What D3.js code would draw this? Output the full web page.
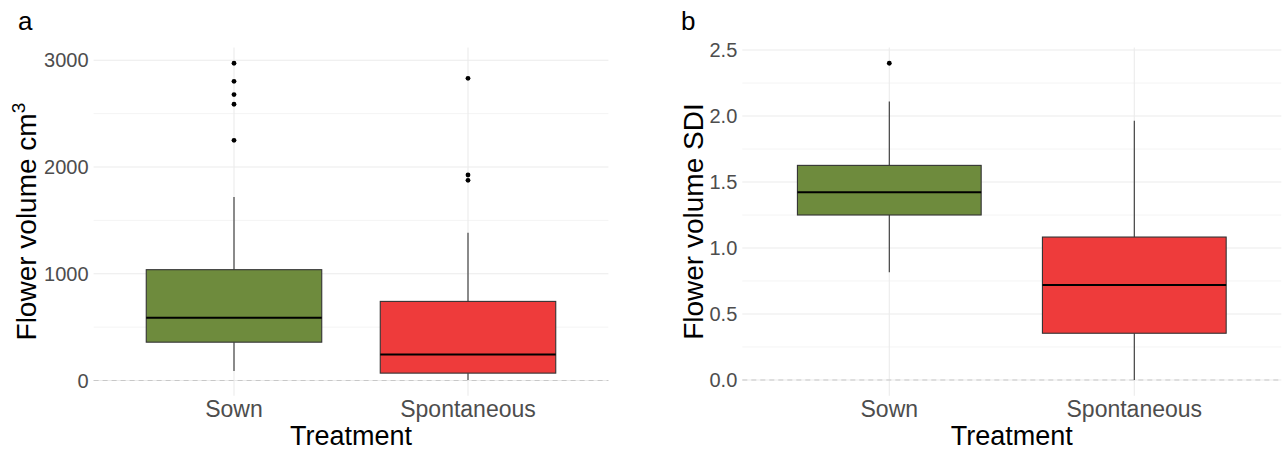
<!DOCTYPE html>
<html>
<head>
<meta charset="utf-8">
<script src="https://cdn.jsdelivr.net/npm/d3@7"></script>
<style>
  body { margin: 0; background: #fff; }
  svg text { font-family: "Liberation Sans", Arial, Helvetica, sans-serif; }
</style>
</head>
<body>
<svg id="chart" width="1285" height="450"></svg>
<script>
// Categories and colours
const treatments = ['Sown', 'Spontaneous']
const fills = ['#6e8b3d', '#ee3b3b']

// Panel a: flower volume cm3 (low whisker, Q1, median, Q3, high whisker)
const volume_low = [88, 5]
const volume_q1 = [359, 69]
const volume_median = [588, 244]
const volume_q3 = [1038, 741]
const volume_high = [1719, 1385]
const volume_outliers = [
  [2972, 2803, 2678, 2588, 2250],
  [2831, 1925, 1875]
]
const volume_ticks = [0, 1000, 2000, 3000]
const volume_minor = [500, 1500, 2500]

// Panel b: flower volume SDI
const sdi_low = [0.816, 0.0]
const sdi_q1 = [1.25, 0.354]
const sdi_median = [1.422, 0.72]
const sdi_q3 = [1.626, 1.083]
const sdi_high = [2.11, 1.965]
const sdi_outliers = [
  [2.40],
  []
]
const sdi_ticks = [0, 0.5, 1.0, 1.5, 2.0, 2.5]
const sdi_minor = [0.25, 0.75, 1.25, 1.75, 2.25]

const svg = d3.select('#chart')

function draw_panel(opt) {

  let boxes = treatments.map((t, i) => ({
    name: t,
    fill: fills[i],
    low: opt.low[i],
    q1: opt.q1[i],
    median: opt.median[i],
    q3: opt.q3[i],
    high: opt.high[i],
    outliers: opt.outliers[i]
  }))

  // ggplot style expansion: 5% continuous, 0.6 units discrete
  let all_vals = boxes.flatMap(b => [b.low, b.high, ...b.outliers])
  let [mn, mx] = d3.extent(all_vals)
  let pad = (mx - mn) * 0.05
  let top = 47.4, bottom = 395.8

  let y = d3.scaleLinear()
    .domain([mn - pad, mx + pad])
    .range([bottom, top])

  let x = d3.scaleLinear()
    .domain([0.4, treatments.length + 0.6])
    .range([opt.left, opt.right])

  let g = svg.append('g')

  // Minor grid
  g.selectAll('.minor')
    .data(opt.minor)
    .enter()
    .append('line')
      .attr('x1', opt.left)
      .attr('x2', opt.right)
      .attr('y1', d => y(d))
      .attr('y2', d => y(d))
      .attr('stroke', '#f4f4f4')
      .attr('stroke-width', 1)

  // Major grid (y)
  g.selectAll('.major')
    .data(opt.ticks)
    .enter()
    .append('line')
      .attr('x1', opt.left)
      .attr('x2', opt.right)
      .attr('y1', d => y(d))
      .attr('y2', d => y(d))
      .attr('stroke', '#ebebeb')
      .attr('stroke-width', 1.1)

  // Major grid (x)
  g.selectAll('.xgrid')
    .data(treatments)
    .enter()
    .append('line')
      .attr('x1', (d, i) => x(i + 1))
      .attr('x2', (d, i) => x(i + 1))
      .attr('y1', top)
      .attr('y2', bottom)
      .attr('stroke', '#ebebeb')
      .attr('stroke-width', 1.1)

  // Dashed zero line
  g.append('line')
    .attr('x1', opt.left)
    .attr('x2', opt.right)
    .attr('y1', y(0))
    .attr('y2', y(0))
    .attr('stroke', '#c8c8c8')
    .attr('stroke-width', 1.1)
    .attr('stroke-dasharray', '5,4')

  let half = 0.375

  let bx = g.selectAll('.box')
    .data(boxes)
    .enter()
    .append('g')

  // Whiskers
  bx.append('line')
    .attr('x1', (d, i) => x(i + 1))
    .attr('x2', (d, i) => x(i + 1))
    .attr('y1', d => y(d.high))
    .attr('y2', d => y(d.q3))
    .attr('stroke', '#333')
    .attr('stroke-width', 1.1)
  bx.append('line')
    .attr('x1', (d, i) => x(i + 1))
    .attr('x2', (d, i) => x(i + 1))
    .attr('y1', d => y(d.q1))
    .attr('y2', d => y(d.low))
    .attr('stroke', '#333')
    .attr('stroke-width', 1.1)

  // Box
  bx.append('rect')
    .attr('x', (d, i) => x(i + 1 - half))
    .attr('width', (d, i) => x(i + 1 + half) - x(i + 1 - half))
    .attr('y', d => y(d.q3))
    .attr('height', d => y(d.q1) - y(d.q3))
    .attr('fill', d => d.fill)
    .attr('stroke', '#333')
    .attr('stroke-width', 1.1)

  // Median
  bx.append('line')
    .attr('x1', (d, i) => x(i + 1 - half))
    .attr('x2', (d, i) => x(i + 1 + half))
    .attr('y1', d => y(d.median))
    .attr('y2', d => y(d.median))
    .attr('stroke', '#000')
    .attr('stroke-width', 2)

  // Outliers
  bx.each(function (d, i) {
    d3.select(this)
      .selectAll('circle')
      .data(d.outliers)
      .enter()
      .append('circle')
        .attr('cx', x(i + 1))
        .attr('cy', v => y(v))
        .attr('r', 2.4)
        .attr('fill', '#000')
  })

  // Y tick labels
  g.selectAll('.ytick')
    .data(opt.ticks)
    .enter()
    .append('text')
      .attr('x', opt.left - 5)
      .attr('y', d => y(d))
      .attr('dy', '0.36em')
      .attr('text-anchor', 'end')
      .attr('font-size', 20)
      .attr('fill', '#4d4d4d')
      .text(d => opt.fmt(d))

  // X tick labels
  g.selectAll('.xtick')
    .data(treatments)
    .enter()
    .append('text')
      .attr('x', (d, i) => x(i + 1))
      .attr('y', 417)
      .attr('text-anchor', 'middle')
      .attr('font-size', 23)
      .attr('fill', '#4d4d4d')
      .text(d => d)

  // X title
  g.append('text')
    .attr('x', (opt.left + opt.right) / 2)
    .attr('y', 445)
    .attr('text-anchor', 'middle')
    .attr('font-size', 27)
    .attr('fill', '#000')
    .text('Treatment')

  // Y title
  let yt = g.append('text')
    .attr('transform', `translate(${opt.title_x},${(top + bottom) / 2}) rotate(-90)`)
    .attr('text-anchor', 'middle')
    .attr('font-size', 28)
    .attr('fill', '#000')
  yt.append('tspan').text(opt.title)
  if (opt.sup) {
    yt.append('tspan')
      .attr('font-size', 19)
      .attr('dy', '-0.6em')
      .text(opt.sup)
  }

  // Panel tag
  g.append('text')
    .attr('x', opt.tag_x)
    .attr('y', 30)
    .attr('font-size', 26)
    .attr('fill', '#000')
    .text(opt.tag)
}

draw_panel({
  left: 93.6, right: 608.4,
  low: volume_low, q1: volume_q1, median: volume_median, q3: volume_q3,
  high: volume_high, outliers: volume_outliers,
  ticks: volume_ticks, minor: volume_minor,
  fmt: d3.format('d'),
  title: 'Flower volume cm', sup: '3', title_x: 36,
  tag: 'a', tag_x: 18
})

draw_panel({
  left: 742.3, right: 1281.3,
  low: sdi_low, q1: sdi_q1, median: sdi_median, q3: sdi_q3,
  high: sdi_high, outliers: sdi_outliers,
  ticks: sdi_ticks, minor: sdi_minor,
  fmt: d3.format('.1f'),
  title: 'Flower volume SDI', sup: null, title_x: 703,
  tag: 'b', tag_x: 681
})
</script>
</body>
</html>
